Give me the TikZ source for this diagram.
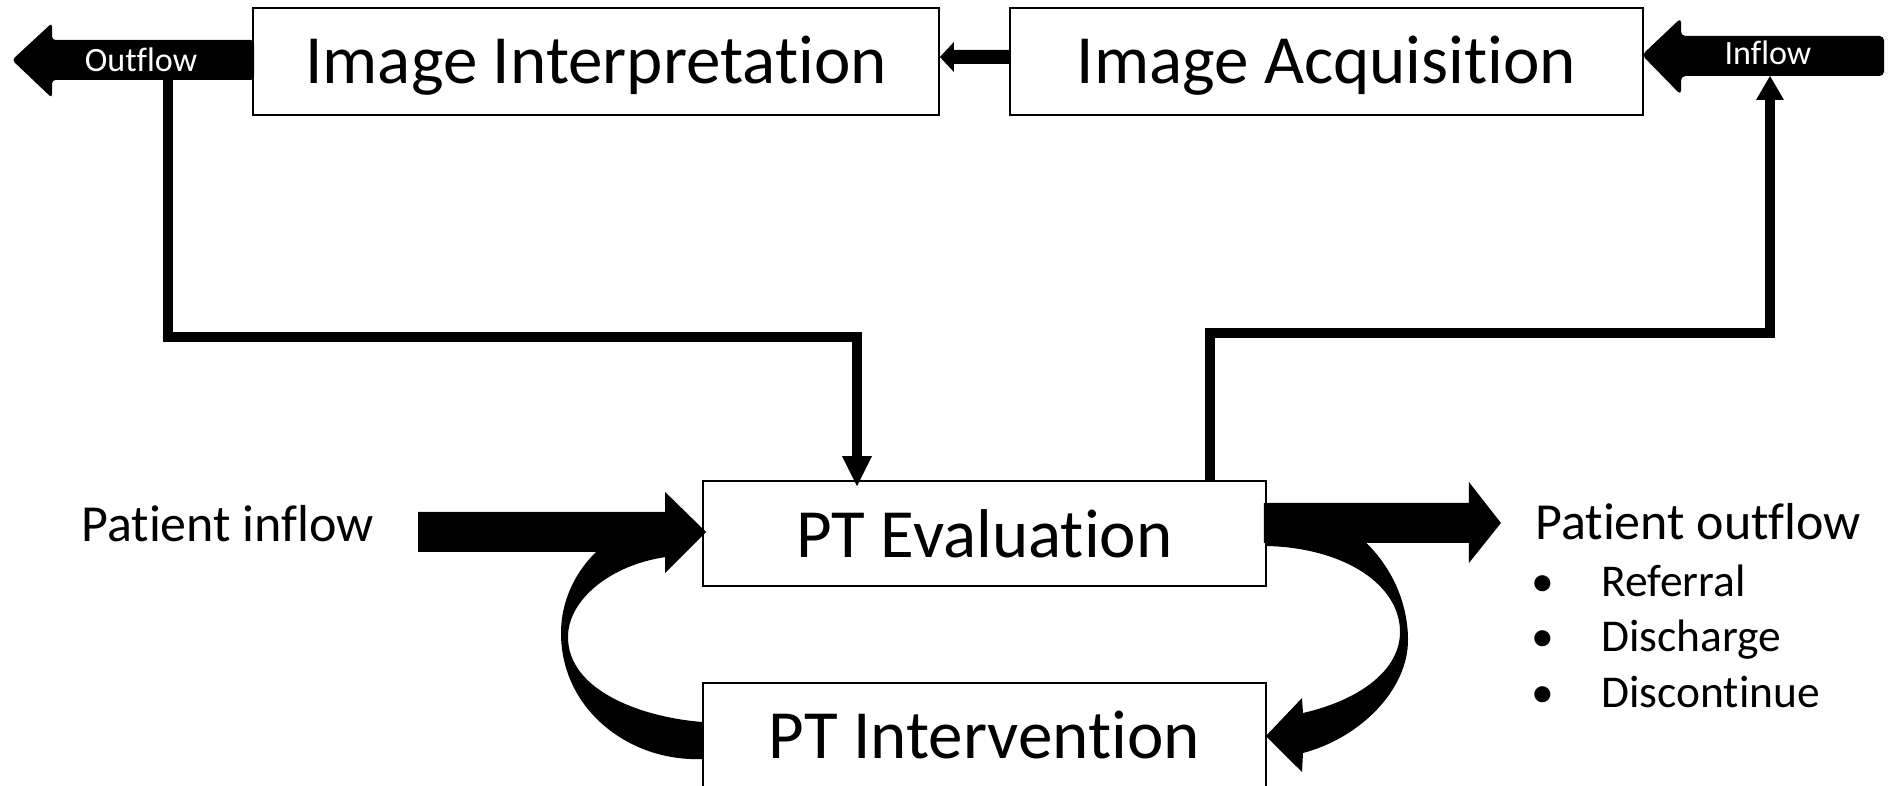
\documentclass[tikz,border=0pt]{standalone}
\usepackage{fontspec}
\setmainfont{Carlito}[Ligatures={NoCommon,NoContextual}]
\usetikzlibrary{calc}
% font sizes
\newcommand\boxfont{\fontsize{39.3pt}{47pt}\selectfont}
\newcommand\tagfont{\fontsize{19.4pt}{23pt}\selectfont}
\newcommand\sidefont{\fontsize{29.6pt}{35pt}\selectfont}
\newcommand\itemfont{\fontsize{25.9pt}{31pt}\selectfont}
% keeps "t" and "i" as separate glyphs
\newcommand\tisep{t\kern0pt i}
\tikzset{
  box/.style={draw, line width=1.1pt, fill=white, inner sep=0pt, font=\boxfont},
  conn/.style={line width=5.6pt, line join=miter},
  tag/.style={inner sep=0pt, anchor=base, text=white, font=\tagfont},
  side/.style={inner sep=0pt, anchor=base west, font=\sidefont},
  itemtxt/.style={inner sep=0pt, anchor=base west, font=\itemfont},
  bulletmark/.style={inner sep=0pt, anchor=base, font=\itemfont},
}
\begin{document}
\begin{tikzpicture}[x=0.02cm,y=-0.02cm]
\useasboundingbox (0,0) rectangle (1894,786);

% process boxes
\node[box, minimum width=13.72cm, text height=1.52cm, text depth=0.62cm] (interp) at (596,61.5) {Image Interpreta\tisep on};
\node[box, minimum width=12.66cm, text height=1.52cm, text depth=0.62cm] (acq) at (1326.5,61.5) {Image Acquisi\tisep on};
\node[box, minimum width=11.26cm, text height=1.54cm, text depth=0.56cm] (eval) at (984.5,533.5) {PT Evalua\tisep on};
\node[box, minimum width=11.26cm, text height=1.52cm, text depth=0.58cm] (interv) at (984.5,735.5) {PT Interven\tisep on};

% acquisition -> interpretation
\fill ($(interp.east)+(0,-4.5)$) -- ++(14,-15) -- ++(0,8) -- ($(acq.west)+(0,-11.5)$) -- ++(0,14) -- ($(interp.east)+(14,2.5)$) -- ++(0,8) -- cycle;

% outflow block arrow
\coordinate (otip) at (12,60);
\fill[rounded corners=2pt] (otip) -- (52,23) -- (52,40) -- ($(interp.west)+(2,-21.5)$) -- ($(interp.west)+(2,18.5)$) -- (52,80) -- (52,98) -- cycle;
\node[tag] (outlbl) at (141,72) {Outflow};

% inflow block arrow
\fill[rounded corners=2.5pt] ($(acq.east)+(-2,-6.5)$) coordinate (itip) -- (1681,18) -- (1681,36) -- (1884,36) -- (1884,76) -- (1681,76) -- (1681,95) -- cycle;
\node[tag] (inlbl) at (1768,65) {Inflow};

% interpretation feeds the evaluation
\coordinate (ltap) at (168,80);
\coordinate (lcorner) at (857,337);
\draw[conn] (ltap) -- (ltap |- lcorner) -- (lcorner) -- ($(lcorner |- eval.north)+(0,-22)$);
\fill ($(lcorner |- eval.north)+(0,6)$) -- ++(-15,-30) -- ++(30,0) -- cycle;

% evaluation requests acquisition
\coordinate (rtap) at (1770,76);
\coordinate (rcorner) at (1210,333);
\draw[conn] (rcorner |- eval.north) -- (rcorner) -- (rcorner -| rtap) -- ($(rtap)+(0,22)$);
\fill (rtap) -- ++(-14,24) -- ++(28,0) -- cycle;

% intervention -> evaluation loop
\fill ($(interv.west)+(0,23.5)$) .. controls (630,762) and (561,710) .. (561,633)
  .. controls (561,580) and (600,530) .. (666,515) -- (666,557)
  .. controls (610,565) and (568,600) .. (568,637)
  .. controls (568,690) and (640,717) .. ($(interv.west)+(0,-13.5)$) -- cycle;

% evaluation -> intervention loop
\fill ($(eval.east)+(0,-30.5)$) .. controls (1350,503) and (1408,570) .. (1408,640)
  .. controls (1408,690) and (1360,738) .. (1303,753) -- (1302,772)
  -- ($(interv.east)+(-1,0.5)$) -- (1302,698) -- (1303,713)
  .. controls (1360,700) and (1400,670) .. (1400,632)
  .. controls (1400,585) and (1345,548) .. ($(eval.east)+(0,12.5)$) -- cycle;

% patient inflow
\fill ($(eval.west)+(4,-1.5)$) -- ++(-41,-40) -- ++(0,20) -- ++(-247,0) -- ++(0,40) -- ++(247,0) -- ++(0,21) -- cycle;
\node[side] (pin) at (81,542) {Pa\tisep ent inflow};

% patient outflow
\fill ($(eval.east)+(-3,-30.5)$) -- ++(205,0) -- ++(0,-21) -- ++(32,41) -- ++(-32,40) -- ++(0,-20) -- ++(-205,0) -- cycle;
\node[side] (pout) at (1535,540) {Pa\tisep ent outflow};
\node[bulletmark] (b1) at (1543,597) {•};
\node[itemtxt] (ref) at (1601,597) {Referral};
\node[bulletmark] (b2) at (1543,652) {•};
\node[itemtxt] (dis) at (1601,652) {Discharge};
\node[bulletmark] (b3) at (1543,708) {•};
\node[itemtxt] (disc) at (1601,708) {Discon\tisep nue};
\end{tikzpicture}
\end{document}
